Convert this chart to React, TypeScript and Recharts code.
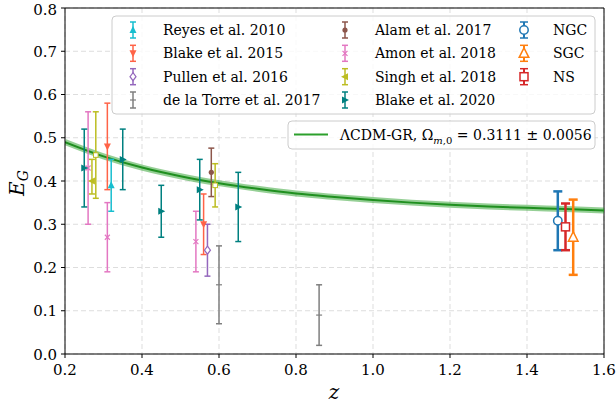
import React from 'react';
import {
  ComposedChart, Scatter, Line, XAxis, YAxis, CartesianGrid, ErrorBar, ReferenceLine
} from 'recharts';

// axis ticks
const zTicks = [0.2, 0.4, 0.6, 0.8, 1.0, 1.2, 1.4, 1.6];
const egTicks = [0, 0.1, 0.2, 0.3, 0.4, 0.5, 0.6, 0.7, 0.8];

// measurements: z, E_G, error (number or [minus, plus])
const reyes2010 = [{ z: 0.32, eg: 0.39, err: 0.06 }];
const blake2015 = [
  { z: 0.31, eg: 0.48, err: 0.10 },
  { z: 0.56, eg: 0.30, err: 0.07 },
];
const pullen2016 = [{ z: 0.57, eg: 0.24, err: 0.06 }];
const delaTorre2017 = [
  { z: 0.60, eg: 0.16, err: 0.09 },
  { z: 0.86, eg: 0.09, err: 0.07 },
];
const alam2017 = [{ z: 0.58, eg: 0.42, err: 0.056 }];
const amon2018 = [
  { z: 0.26, eg: 0.43, err: 0.13 },
  { z: 0.31, eg: 0.27, err: 0.08 },
  { z: 0.54, eg: 0.26, err: 0.07 },
];
const singh2018 = [{ z: 0.27, eg: 0.40, err: [0.03, 0.05] }];
const singh2018Open = [
  { z: 0.28, eg: 0.46, err: 0.10 },
  { z: 0.59, eg: 0.39, err: 0.05 },
];
const blake2020 = [
  { z: 0.25, eg: 0.43, err: 0.09 },
  { z: 0.35, eg: 0.45, err: 0.07 },
  { z: 0.45, eg: 0.33, err: 0.06 },
  { z: 0.55, eg: 0.38, err: 0.07 },
  { z: 0.65, eg: 0.34, err: 0.08 },
];
const ngc = [{ z: 1.48, eg: 0.308, err: 0.068 }];
const sgc = [{ z: 1.52, eg: 0.27, err: 0.087 }];
const ns = [{ z: 1.50, eg: 0.294, err: 0.054 }];

// LCDM-GR curve
const curveZ = [0.2, 0.3, 0.4, 0.5, 0.6, 0.7, 0.8, 0.9, 1.0, 1.1, 1.2, 1.3, 1.4, 1.5, 1.6];
const curveEg = [0.490, 0.457, 0.431, 0.411, 0.395, 0.382, 0.371, 0.363, 0.356, 0.350, 0.345, 0.341, 0.338, 0.335, 0.332];

const curve = curveZ.map((z, i) => ({ z, eg: curveEg[i] }));

const txt = { fontFamily: 'DejaVu Serif' };
const FS = 15;
const LFS = 14;

function Marker({ kind, cx, cy, color }: any) {
  switch (kind) {
    case 'up':
      return <polygon points={`${cx},${cy - 4} ${cx - 3.5},${cy + 3} ${cx + 3.5},${cy + 3}`} fill={color} />;
    case 'down':
      return <polygon points={`${cx},${cy + 4} ${cx - 3.5},${cy - 3} ${cx + 3.5},${cy - 3}`} fill={color} />;
    case 'left':
      return <polygon points={`${cx - 4},${cy} ${cx + 3},${cy - 3.5} ${cx + 3},${cy + 3.5}`} fill={color} />;
    case 'right':
      return <polygon points={`${cx + 4},${cy} ${cx - 3},${cy - 3.5} ${cx - 3},${cy + 3.5}`} fill={color} />;
    case 'diamond':
      return <polygon points={`${cx},${cy - 4} ${cx + 3},${cy} ${cx},${cy + 4} ${cx - 3},${cy}`} fill="#fff" stroke={color} strokeWidth={1.2} />;
    case 'hline':
      return <line x1={cx - 3} x2={cx + 3} y1={cy} y2={cy} stroke={color} strokeWidth={1.2} />;
    case 'dot':
      return <circle cx={cx} cy={cy} r={2.6} fill={color} />;
    case 'x':
      return (
        <g stroke={color} strokeWidth={1.2}>
          <line x1={cx - 2.5} y1={cy - 2.5} x2={cx + 2.5} y2={cy + 2.5} />
          <line x1={cx - 2.5} y1={cy + 2.5} x2={cx + 2.5} y2={cy - 2.5} />
        </g>
      );
    case 'osq':
      return <rect x={cx - 2.3} y={cy - 2.3} width={4.6} height={4.6} fill="#fff" stroke={color} strokeWidth={1} />;
    case 'circle':
      return <circle cx={cx} cy={cy} r={4.2} fill="#fff" stroke={color} strokeWidth={1.5} />;
    case 'bigup':
      return <polygon points={`${cx},${cy - 5.5} ${cx - 4.8},${cy + 4} ${cx + 4.8},${cy + 4}`} fill="#fff" stroke={color} strokeWidth={1.5} />;
    case 'square':
      return <rect x={cx - 4} y={cy - 4} width={8} height={8} fill="#fff" stroke={color} strokeWidth={1.5} />;
    default:
      return null;
  }
}

const series = [
  { name: 'Reyes et al. 2010', data: reyes2010, color: '#17becf', kind: 'up' },
  { name: 'Blake et al. 2015', data: blake2015, color: '#ff6347', kind: 'down' },
  { name: 'Pullen et al. 2016', data: pullen2016, color: '#9467bd', kind: 'diamond' },
  { name: 'de la Torre et al. 2017', data: delaTorre2017, color: '#7f7f7f', kind: 'hline' },
  { name: 'Alam et al. 2017', data: alam2017, color: '#8c564b', kind: 'dot' },
  { name: 'Amon et al. 2018', data: amon2018, color: '#e377c2', kind: 'x' },
  { name: 'Singh et al. 2018', data: singh2018, color: '#bcbd22', kind: 'left' },
  { name: 'Blake et al. 2020', data: blake2020, color: '#008080', kind: 'right' },
];
const singhOpen = { name: 'Singh open', data: singh2018Open, color: '#bcbd22', kind: 'osq' };
const eboss = [
  { name: 'NGC', data: ngc, color: '#1f77b4', kind: 'circle' },
  { name: 'SGC', data: sgc, color: '#ff7f0e', kind: 'bigup' },
  { name: 'NS', data: ns, color: '#d62728', kind: 'square' },
];

function LegendIcon({ x, y, color, kind, big }: any) {
  const cap = big ? 4 : 3;
  return (
    <g>
      <line x1={x} x2={x} y1={y - 8} y2={y + 8} stroke={color} strokeWidth={big ? 2 : 1.5} />
      <line x1={x - cap} x2={x + cap} y1={y - 8} y2={y - 8} stroke={color} strokeWidth={1.5} />
      <line x1={x - cap} x2={x + cap} y1={y + 8} y2={y + 8} stroke={color} strokeWidth={1.5} />
      <Marker kind={kind} cx={x} cy={y} color={color} />
    </g>
  );
}

function XTick({ x, y, payload }: any) {
  return (
    <text x={x} y={y + 11} textAnchor="middle" fontSize={FS} fill="#000" style={txt}>
      {Number(payload.value).toFixed(1)}
    </text>
  );
}

function YTick({ x, y, payload }: any) {
  return (
    <text x={x} y={y + 5.5} textAnchor="end" fontSize={FS} fill="#000" style={txt}>
      {Number(payload.value).toFixed(1)}
    </text>
  );
}

export default function App() {
  const rows = [30, 53.3, 76.7, 100];
  return (
    <div style={{ position: 'absolute', left: 0, top: 0, width: 616, height: 407, background: '#fff' }}>
      <ComposedChart width={616} height={407} margin={{ top: 8, right: 12, bottom: 23, left: 0 }}>
        <CartesianGrid stroke="#dddddd" strokeDasharray="5 3" />
        <XAxis
          type="number" dataKey="z" domain={[0.2, 1.6]} ticks={zTicks} allowDataOverflow
          height={30} tickSize={4} tickMargin={6}
          axisLine={{ stroke: '#000' }} tickLine={{ stroke: '#000' }} tick={<XTick />}
        />
        <YAxis
          type="number" domain={[0, 0.8]} ticks={egTicks} allowDataOverflow
          width={65} tickSize={4} tickMargin={4}
          axisLine={{ stroke: '#000' }} tickLine={{ stroke: '#000' }} tick={<YTick />}
        />
        <ReferenceLine y={0.8} stroke="#000" />
        <ReferenceLine x={1.6} stroke="#000" />
        <Line data={curve} dataKey="eg" type="monotone" stroke="#2ca02c" strokeOpacity={0.5} strokeWidth={6} dot={false} isAnimationActive={false} />
        <Line data={curve} dataKey="eg" type="monotone" stroke="#1f8f1f" strokeWidth={2} dot={false} isAnimationActive={false} />
        {[...series, singhOpen].map((s) => (
          <Scatter
            key={s.name} data={s.data} dataKey="eg" isAnimationActive={false}
            shape={(p: any) => <Marker kind={s.kind} cx={p.cx} cy={p.cy} color={s.color} />}
          >
            <ErrorBar dataKey="err" direction="y" width={3} stroke={s.color} strokeWidth={1.5} />
          </Scatter>
        ))}
        {eboss.map((s) => (
          <Scatter
            key={s.name} data={s.data} dataKey="eg" isAnimationActive={false}
            shape={(p: any) => <Marker kind={s.kind} cx={p.cx} cy={p.cy} color={s.color} />}
          >
            <ErrorBar dataKey="err" direction="y" width={4.5} stroke={s.color} strokeWidth={2.5} />
          </Scatter>
        ))}
      </ComposedChart>
      <svg width={616} height={407} style={{ position: 'absolute', left: 0, top: 0, pointerEvents: 'none' }}>
        <rect x={112} y={16} width={483} height={98} rx={4} fill="#fff" fillOpacity={0.8} stroke="#cccccc" />
        {series.slice(0, 4).map((s, i) => (
          <g key={s.name}>
            <LegendIcon x={133} y={rows[i]} color={s.color} kind={s.kind} />
            <text x={163} y={rows[i] + 5} fontSize={LFS} style={txt}>{s.name}</text>
          </g>
        ))}
        {series.slice(4).map((s, i) => (
          <g key={s.name}>
            <LegendIcon x={345} y={rows[i]} color={s.color} kind={s.kind} />
            <text x={375} y={rows[i] + 5} fontSize={LFS} style={txt}>{s.name}</text>
          </g>
        ))}
        {eboss.map((s, i) => (
          <g key={s.name}>
            <LegendIcon x={524} y={rows[i]} color={s.color} kind={s.kind} big />
            <text x={553} y={rows[i] + 5} fontSize={LFS} style={txt}>{s.name}</text>
          </g>
        ))}
        <rect x={288} y={121} width={307} height={28} rx={4} fill="#fff" fillOpacity={0.8} stroke="#cccccc" />
        <line x1={294} x2={328} y1={134.5} y2={134.5} stroke="#2ca02c" strokeWidth={2} />
        <text x={340} y={139.5} fontSize={LFS} style={txt}>
          ΛCDM-GR, Ω<tspan fontSize={10} dy={4}><tspan fontStyle="italic">m</tspan>,0</tspan>
          <tspan dy={-4}> = 0.3111 ± 0.0056</tspan>
        </text>
        <text x={334} y={399} fontSize={20} fontStyle="italic" textAnchor="middle" style={txt}>z</text>
        <text transform="translate(24,183) rotate(-90)" fontSize={20} fontStyle="italic" textAnchor="middle" style={txt}>
          E<tspan fontSize={14} dy={4}>G</tspan>
        </text>
      </svg>
    </div>
  );
}
